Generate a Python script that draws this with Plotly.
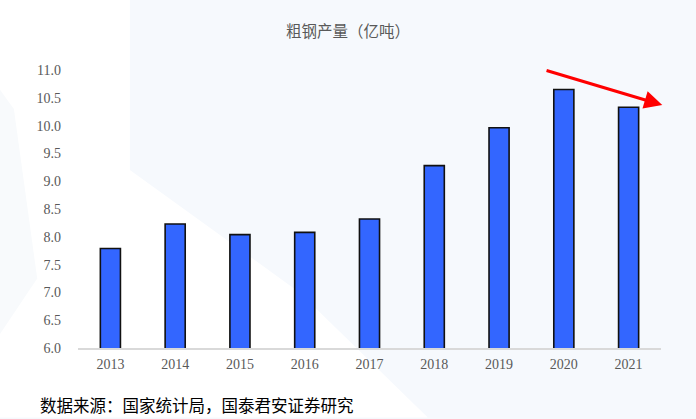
import plotly.graph_objects as go

# Crude steel output, 100 million tonnes
years = ['2013', '2014', '2015', '2016', '2017', '2018', '2019', '2020', '2021']
output = [7.79, 8.23, 8.04, 8.08, 8.32, 9.28, 9.96, 10.65, 10.33]
yTicks = [6.0, 6.5, 7.0, 7.5, 8.0, 8.5, 9.0, 9.5, 10.0, 10.5, 11.0]

# Trend arrow ends (category index, value)
arrowFrom = (6.71, 11.0)
arrowTo = (8.52, 10.37)

fig = go.Figure()
fig.add_trace(go.Bar(x=years, y=output, width=0.31,
                     marker=dict(color='#3366ff', line=dict(color='#111111', width=1.6))))

# Soft background panels
fig.add_shape(type='path', xref='paper', yref='paper', layer='below',
              path='M -0.134 1.252 L 0.089 1.252 L 0.089 0.64 L 0.38 0.20 L 0.60 -0.25 L -0.134 -0.25 Z',
              fillcolor='white', line=dict(width=0))
fig.add_shape(type='path', xref='paper', yref='paper', layer='below',
              path='M -0.134 0.93 L -0.11 0.86 L -0.07 0.25 L -0.134 0.05 Z',
              fillcolor='#f8fafc', line=dict(width=0))

fig.add_annotation(x=arrowTo[0], y=arrowTo[1], ax=arrowFrom[0], ay=arrowFrom[1],
                   xref='x', yref='y', axref='x', ayref='y', text='', showarrow=True,
                   arrowhead=2, arrowsize=1.2, arrowwidth=3, arrowcolor='#ff0000')

fig.add_annotation(text='数据来源：国家统计局，国泰君安证券研究', xref='paper', yref='paper',
                   x=-0.069, y=-0.205, xanchor='left', yanchor='middle', showarrow=False,
                   font=dict(family='Noto Sans CJK SC', size=16.5, color='#000000'))

fig.update_layout(
    width=696, height=419,
    margin=dict(l=78, r=35, t=70, b=71),
    paper_bgcolor='#f6f9fd', plot_bgcolor='rgba(0,0,0,0)',
    showlegend=False,
    title=dict(text='粗钢产量（亿吨）', x=0.5, xref='container', y=0.924, yref='container',
               xanchor='center', yanchor='middle',
               font=dict(family='Noto Sans CJK SC', size=15.5, color='#595959')),
    xaxis=dict(range=[-0.5, 8.5], showline=True, linecolor='#d9d9d9', linewidth=1.5,
               showgrid=False,
               tickfont=dict(family='Liberation Serif', size=14, color='#595959'),
               ticklabelstandoff=2),
    yaxis=dict(range=[6, 11], tickvals=yTicks, tickformat='.1f', showgrid=False,
               zeroline=False, showline=False,
               tickfont=dict(family='Liberation Serif', size=14, color='#595959'),
               ticklabelstandoff=16),
)

fig.write_html("out.html", config={'displayModeBar': False},
               post_script="document.body.style.margin='0';")
